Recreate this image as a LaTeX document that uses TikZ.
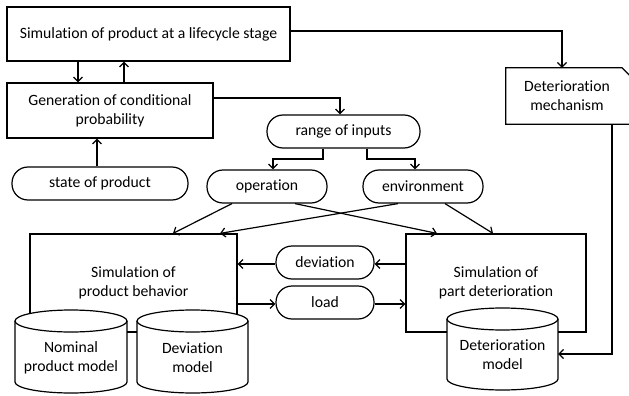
\documentclass[tikz,border=0pt]{standalone}
\usepackage{fontspec}
\setmainfont{Carlito}[Ligatures=NoCommon]
\usetikzlibrary{arrows.meta}

% drum-shaped store: name, left, right, top, bottom, label
\newcommand{\tankshape}[6]{%
  \pgfmathsetmacro\tkcx{(#2+#3)/2}%
  \pgfmathsetmacro\tkrx{(#3-#2)/2}%
  \pgfmathsetmacro\tkcy{(#4+#5)/2}%
  \node[minimum width={#3-#2}, minimum height={#5-#4}, inner sep=0pt] (#1) at (\tkcx,\tkcy) {};
  \fill[white] (#2,#4+11) rectangle (#3,#5-11);
  \fill[white] (\tkcx,#5-11) ellipse[x radius=\tkrx, y radius=11];
  \draw[thickline, fill=white] (\tkcx,#4+11) ellipse[x radius=\tkrx, y radius=11];
  \draw[thickline] (#2,#4+11) -- (#2,#5-11)
    arc[start angle=180, end angle=0, x radius=\tkrx, y radius=11] -- (#3,#4+11);
  \node[align=center, inner sep=0pt] (#1-label) at (\tkcx,\tkcy+6) {#6};
}

\begin{document}
\begin{tikzpicture}[x=1pt, y=-1pt,
  thickline/.style={line width=1.2pt},
  box/.style={draw, thickline, align=center, inner sep=0pt},
  pill/.style={draw, thickline, rounded corners=16pt, align=center, inner sep=0pt,
               minimum height=33},
  arr/.style={thickline, -{Straight Barb[length=4.5pt, width=9pt]}},
  every node/.style={font=\fontsize{15.7}{18.8}\selectfont}]

\useasboundingbox (0,0) rectangle (629,396);
\clip (0,0) rectangle (629,396);

% upper chain
\node[box, minimum width=283, minimum height=54] (sim) at (148.5,34)
  {Simulation of product at a lifecycle stage};
\node[box, minimum width=206, minimum height=55] (gen) at (110,110.5)
  {Generation of conditional\\probability};
\node[pill, minimum width=176] (state) at (100,183.5) {state of product};

% inputs
\node[pill, minimum width=153] (range) at (343.5,131.5) {range of inputs};
\node[pill, minimum width=120] (op) at (267,186.5) {operation};
\node[pill, minimum width=120] (env) at (423,186.5) {environment};

% deterioration mechanism (card with cut corner)
\node[minimum width=122, minimum height=56, inner sep=0pt, align=center] (det) at (567,96)
  {Deterioration\\mechanism};
\draw[thickline] (det.south west) -- (det.north west) -- (622,0 |- det.north) -- ++(16,16)
  -- (638,0 |- det.south) -- cycle;

% simulation blocks
\node[box, minimum width=207, minimum height=98] (beh) at (133.5,283)
  {Simulation of\\product behavior};
\node[box, minimum width=180, minimum height=98] (part) at (496,283)
  {Simulation of\\part deterioration};

\node[pill, minimum width=98] (dev) at (325,262.5) {deviation};
\node[pill, minimum width=98] (load) at (325,302.5) {load};

% model stores
\tankshape{nom}{15}{127}{310}{393}{Nominal\\product model}
\tankshape{devm}{137}{248}{310}{393}{Deviation\\model}
\tankshape{dmod}{447}{558}{308}{390}{Deterioration\\model}

% connectors
\draw[arr] (78,0 |- sim.south) -- (78,0 |- gen.north);
\draw[arr] (124,0 |- gen.north) -- (124,0 |- sim.south);
\draw[arr] (97,0 |- state.north) -- (97,0 |- gen.south);
\draw[arr] (gen.east |- 0,98) -| (340,0 |- range.north);
\draw[arr] (sim.east |- 0,31) -| (562,0 |- det.north);
\draw[arr] (612,0 |- det.south) |- (dmod.east |- 0,354);

\draw[arr] (323,0 |- range.south) |- (273,159) -- (273,0 |- op.north);
\draw[arr] (367,0 |- range.south) |- (415,159) -- (415,0 |- env.north);

\draw[arr] (232,0 |- op.south) -- (173,0 |- beh.north);
\draw[arr] (295,0 |- op.south) -- (437,0 |- part.north);
\draw[arr] (398,0 |- env.south) -- (220,0 |- beh.north);
\draw[arr] (445,0 |- env.south) -- (493,0 |- part.north);

\draw[arr] (part.west |- 0,264) -- (dev.east |- 0,264);
\draw[arr] (dev.west |- 0,264) -- (beh.east |- 0,264);
\draw[arr] (beh.east |- 0,304) -- (load.west |- 0,304);
\draw[arr] (load.east |- 0,304) -- (part.west |- 0,304);
\end{tikzpicture}
\end{document}
